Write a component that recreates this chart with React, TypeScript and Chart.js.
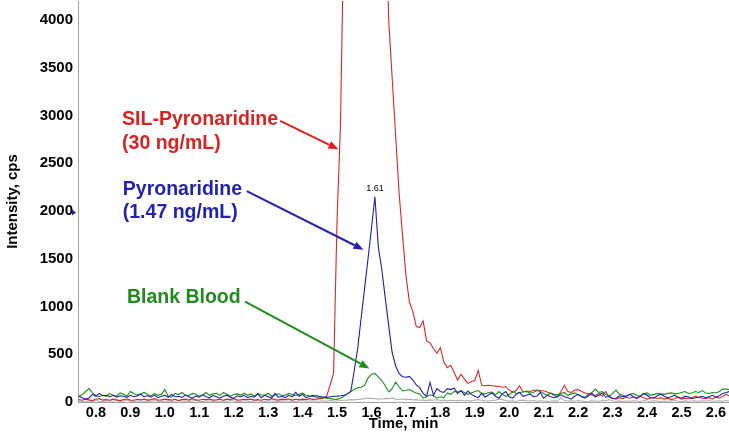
import { useEffect, useRef } from 'react';
import Chart from 'chart.js/auto';

// Retention time grid (min)
const times = [
  0.75, 0.76, 0.77, 0.78, 0.79, 0.80, 0.81, 0.82, 0.83, 0.84,
  0.85, 0.86, 0.87, 0.88, 0.89, 0.90, 0.91, 0.92, 0.93, 0.94,
  0.95, 0.96, 0.97, 0.98, 0.99, 1.00, 1.01, 1.02, 1.03, 1.04,
  1.05, 1.06, 1.07, 1.08, 1.09, 1.10, 1.11, 1.12, 1.13, 1.14,
  1.15, 1.16, 1.17, 1.18, 1.19, 1.20, 1.21, 1.22, 1.23, 1.24,
  1.25, 1.26, 1.27, 1.28, 1.29, 1.30, 1.31, 1.32, 1.33, 1.34,
  1.35, 1.36, 1.37, 1.38, 1.39, 1.40, 1.41, 1.42, 1.43, 1.44,
  1.45, 1.46, 1.47, 1.48, 1.49, 1.50, 1.51, 1.52, 1.53, 1.54,
  1.55, 1.56, 1.57, 1.58, 1.59, 1.60, 1.61, 1.62, 1.63, 1.64,
  1.65, 1.66, 1.67, 1.68, 1.69, 1.70, 1.71, 1.72, 1.73, 1.74,
  1.75, 1.76, 1.77, 1.78, 1.79, 1.80, 1.81, 1.82, 1.83, 1.84,
  1.85, 1.86, 1.87, 1.88, 1.89, 1.90, 1.91, 1.92, 1.93, 1.94,
  1.95, 1.96, 1.97, 1.98, 1.99, 2.00, 2.01, 2.02, 2.03, 2.04,
  2.05, 2.06, 2.07, 2.08, 2.09, 2.10, 2.11, 2.12, 2.13, 2.14,
  2.15, 2.16, 2.17, 2.18, 2.19, 2.20, 2.21, 2.22, 2.23, 2.24,
  2.25, 2.26, 2.27, 2.28, 2.29, 2.30, 2.31, 2.32, 2.33, 2.34,
  2.35, 2.36, 2.37, 2.38, 2.39, 2.40, 2.41, 2.42, 2.43, 2.44,
  2.45, 2.46, 2.47, 2.48, 2.49, 2.50, 2.51, 2.52, 2.53, 2.54,
  2.55, 2.56, 2.57, 2.58, 2.59, 2.60, 2.61, 2.62, 2.63, 2.64,
];

// Pyronaridine (1.47 ng/mL), cps
const pyronaridine = [
  60, 45, 30, 42, 80, 60, 90, 65, 70, 55,
  70, 50, 65, 60, 48, 70, 55, 62, 80, 55,
  65, 50, 72, 45, 60, 70, 50, 80, 55, 60,
  48, 72, 55, 40, 62, 50, 75, 55, 45, 68,
  55, 40, 60, 72, 50, 38, 65, 55, 70, 45,
  60, 50, 85, 45, 70, 55, 40, 90, 50, 60,
  45, 70, 55, 100, 60, 80, 45, 60, 70, 50,
  55, 52, 48, 55, 60, 62, 65, 70, 85, 110,
  330, 560, 880, 1190, 1500, 1820, 2150, 1620, 1390, 1090,
  800, 520, 380, 300, 265, 260, 268, 230, 180, 150,
  90, 60, 205, 70, 140, 110, 100, 140, 130, 145,
  90, 120, 70, 115, 80, 60, 45, 90, 50, 75,
  95, 60, 40, 85, 110, 55, 40, 80, 100, 60,
  70, 85, 55, 60, 100, 40, 70, 55, 45, 60,
  75, 55, 45, 30, 60, 80, 55, 40, 65, 90,
  55, 70, 95, 50, 60, 35, 40, 65, 55, 60,
  80, 55, 40, 60, 90, 70, 45, 40, 65, 80,
  60, 45, 55, 70, 50, 40, 60, 55, 35, 45,
  50, 60, 45, 55, 70, 50, 65, 90, 100, 110,
];

// SIL-Pyronaridine (30 ng/mL), cps (apex runs off scale)
const silPyronaridine = [
  25, 18, 30, 22, 15, 28, 35, 20, 25, 18,
  30, 22, 15, 25, 32, 20, 18, 28, 22, 30,
  20, 25, 35, 18, 22, 30, 25, 20, 28, 15,
  25, 30, 20, 35, 22, 18, 28, 25, 30, 20,
  22, 28, 18, 30, 25, 35, 20, 22, 28, 25,
  30, 20, 25, 18, 28, 22, 35, 25, 20, 30,
  25, 32, 20, 28, 22, 30, 25, 35, 28, 30,
  35, 40, 60, 180, 300, 1900, 2900, 5000, 8000, 12000,
  16000, 20000, 24000, 27000, 28500, 28000, 26000, 21000, 14000, 5500,
  4000, 3400, 2800, 2200, 1750, 1330, 1050, 950, 790, 780,
  850, 640, 620, 560, 510, 570, 420, 360, 385, 310,
  230, 290, 240, 195, 215, 225, 330, 175, 170, 175,
  170, 165, 165, 155, 160, 125, 100, 120, 170, 105,
  115, 110, 120, 125, 120, 118, 105, 90, 70, 50,
  110, 175, 110, 100, 125, 130, 110, 95, 85, 75,
  68, 90, 60, 110, 55, 40, 30, 45, 35, 50,
  40, 55, 35, 60, 45, 30, 40, 50, 35, 45,
  30, 40, 25, 35, 50, 30, 40, 35, 45, 60,
  50, 40, 35, 45, 30, 55, 40, 60, 80, 60,
];

// Blank Blood, cps
const blankBlood = [
  60, 75, 110, 140, 95, 68, 55, 70, 60, 88,
  70, 62, 95, 80, 60, 110, 90, 72, 85, 100,
  78, 64, 90, 70, 82, 130, 60, 52, 90, 78,
  100, 70, 68, 90, 82, 60, 74, 100, 70, 85,
  92, 70, 100, 82, 60, 78, 85, 72, 92, 70,
  84, 62, 88, 76, 70, 92, 60, 74, 86, 68,
  72, 90, 78, 66, 80, 92, 70, 62, 55, 70,
  55, 48, 40, 35, 30, 28, 40, 60, 85, 110,
  130, 150, 155, 175, 250, 290, 300, 260, 225, 170,
  105, 140, 210, 160, 115, 120, 130, 110, 95, 85,
  40, 55, 75, 65, 40, 55, 45, 95, 80, 110,
  105, 115, 100, 80, 95, 110, 120, 90, 85, 100,
  105, 75, 110, 80, 60, 75, 110, 90, 100, 105,
  110, 95, 100, 120, 110, 90, 70, 95, 80, 75,
  90, 100, 70, 85, 95, 75, 60, 50, 80, 100,
  135, 100, 110, 80, 60, 90, 125, 80, 70, 60,
  80, 90, 70, 60, 85, 95, 70, 80, 90, 85,
  80, 90, 95, 85, 90, 100, 110, 90, 95, 110,
  100, 120, 95, 90, 100, 95, 110, 135, 135, 130,
];

// Grey background trace, cps
const backgroundTrace = [
  10, 5, 8, 12, 6, 15, 8, 5, 10, 12,
  8, 15, 6, 10, 20, 8, 5, 12, 10, 6,
  12, 8, 15, 5, 10, 8, 12, 6, 10, 15,
  8, 12, 5, 10, 15, 8, 6, 12, 10, 5,
  10, 6, 12, 8, 15, 10, 5, 8, 12, 10,
  6, 10, 15, 8, 5, 12, 10, 8, 6, 12,
  10, 8, 12, 6, 10, 15, 8, 10, 12, 8,
  10, 12, 8, 15, 12, 10, 15, 18, 20, 25,
  22, 28, 30, 35, 40, 38, 35, 30, 32, 38,
  35, 40, 30, 28, 32, 25, 30, 22, 25, 18,
  20, 15, 22, 18, 25, 15, 20, 12, 18, 15,
  12, 18, 10, 15, 12, 20, 25, 18, 12, 10,
  15, 20, 30, 25, 15, 10, 12, 8, 15, 20,
  12, 10, 15, 8, 12, 10, 5, 10, 12, 8,
  45, 15, 10, 12, 8, 15, 10, 5, 8, 12,
  10, 8, 15, 12, 25, 10, 8, 12, 5, 10,
  8, 12, 10, 6, 15, 10, 8, 12, 10, 5,
  10, 8, 12, 15, 10, 6, 12, 8, 10, 12,
  8, 12, 10, 15, 8, 10, 12, 8, 15, 10,
];

const xTicks = [0.8, 0.9, 1.0, 1.1, 1.2, 1.3, 1.4, 1.5, 1.6, 1.7, 1.8, 1.9, 2.0, 2.1, 2.2, 2.3, 2.4, 2.5, 2.6];
const yTicks = [0, 500, 1000, 1500, 2000, 2500, 3000, 3500, 4000];

// Annotation labels (data coordinates: time, intensity of the left/middle of text)
const labelTexts = ['SIL-Pyronaridine', '(30 ng/mL)', 'Pyronaridine', '(1.47 ng/mL)', 'Blank Blood'];
const labelTimes = [0.876, 0.876, 0.878, 0.878, 0.89];
const labelIntensities = [2953, 2711, 2226, 1981, 1089];
const labelColors = ['#d62424', '#d62424', '#2424a8', '#2424a8', '#218a21'];

// Arrows: start (time, intensity) -> tip (time, intensity)
const arrowStartTimes = [1.335, 1.238, 1.233];
const arrowStartIntensities = [2945, 2208, 1051];
const arrowEndTimes = [1.504, 1.577, 1.594];
const arrowEndIntensities = [2647, 1595, 352];
const arrowColors = ['#d62424', '#2424a8', '#218a21'];

// Peak apex label
const apexTime = 1.61;
const apexIntensity = 2150;
const apexLabel = '1.61';
const markerIntensity = 1985;

const FONT = '"Liberation Sans", Arial, Helvetica, sans-serif';

const annotationPlugin = {
  id: 'chromAnnotations',
  afterDatasetsDraw(chart: any) {
    const { ctx, scales } = chart;
    const xs = scales.x;
    const ys = scales.y;
    ctx.save();
    // arrows
    for (let i = 0; i < arrowStartTimes.length; i++) {
      const x1 = xs.getPixelForValue(arrowStartTimes[i]);
      const y1 = ys.getPixelForValue(arrowStartIntensities[i]);
      const x2 = xs.getPixelForValue(arrowEndTimes[i]);
      const y2 = ys.getPixelForValue(arrowEndIntensities[i]);
      const ang = Math.atan2(y2 - y1, x2 - x1);
      const headLen = 10;
      const headW = 4;
      const bx = x2 - headLen * Math.cos(ang);
      const by = y2 - headLen * Math.sin(ang);
      ctx.strokeStyle = arrowColors[i];
      ctx.fillStyle = arrowColors[i];
      ctx.lineWidth = 2;
      ctx.beginPath();
      ctx.moveTo(x1, y1);
      ctx.lineTo(bx, by);
      ctx.stroke();
      ctx.beginPath();
      ctx.moveTo(x2, y2);
      ctx.lineTo(bx + headW * Math.sin(ang), by - headW * Math.cos(ang));
      ctx.lineTo(bx - headW * Math.sin(ang), by + headW * Math.cos(ang));
      ctx.closePath();
      ctx.fill();
    }
    // labels
    ctx.font = `bold 19.5px ${FONT}`;
    ctx.textAlign = 'left';
    ctx.textBaseline = 'middle';
    for (let i = 0; i < labelTexts.length; i++) {
      ctx.fillStyle = labelColors[i];
      ctx.fillText(labelTexts[i], xs.getPixelForValue(labelTimes[i]), ys.getPixelForValue(labelIntensities[i]));
    }
    // apex label
    ctx.font = `9px ${FONT}`;
    ctx.fillStyle = '#000';
    ctx.textAlign = 'center';
    ctx.textBaseline = 'bottom';
    ctx.fillText(apexLabel, xs.getPixelForValue(apexTime), ys.getPixelForValue(apexIntensity) - 4);
    // small peak marker on the y axis
    const my = ys.getPixelForValue(markerIntensity);
    const mx = chart.chartArea.left - 2;
    ctx.fillStyle = '#2424a8';
    ctx.beginPath();
    ctx.moveTo(mx, my);
    ctx.lineTo(mx - 4, my - 3);
    ctx.lineTo(mx - 4, my + 3);
    ctx.closePath();
    ctx.fill();
    ctx.restore();
  },
};

function toPoints(values: number[]) {
  return times.map((t, i) => ({ x: t, y: values[i] }));
}

export default function App() {
  const canvasRef = useRef<HTMLCanvasElement | null>(null);

  useEffect(() => {
    const canvas = canvasRef.current;
    if (!canvas) return;
    const lineDs = (label: string, values: number[], color: string) => ({
      label,
      data: toPoints(values),
      borderColor: color,
      backgroundColor: color,
      borderWidth: 1.1,
      pointRadius: 0,
      tension: 0,
      fill: false,
    });
    const chart = new Chart(canvas, {
      type: 'line',
      data: {
        datasets: [
          lineDs('Pyronaridine', pyronaridine, '#2020a8'),
          lineDs('Blank Blood', blankBlood, '#1f8a1f'),
          lineDs('SIL-Pyronaridine', silPyronaridine, '#d42a2a'),
          lineDs('Background', backgroundTrace, '#b0b0b0'),
        ],
      },
      options: {
        animation: false,
        responsive: false,
        maintainAspectRatio: false,
        layout: { padding: { top: 1, left: 0, right: 0, bottom: 0 } },
        plugins: {
          legend: { display: false },
          tooltip: { enabled: false },
        },
        scales: {
          x: {
            type: 'linear',
            min: 0.748,
            max: 2.638,
            afterBuildTicks: (s: any) => {
              s.ticks = xTicks.map((v) => ({ value: v }));
            },
            afterFit: (s: any) => {
              s.height = 34;
              s.paddingLeft = 0;
              s.paddingRight = 0;
            },
            grid: { display: true, drawOnChartArea: false, drawTicks: false },
            border: { color: '#a0a0a0', width: 1 },
            ticks: {
              font: { family: FONT, size: 14.5, weight: 'bold' },
              color: '#000',
              padding: 2,
              maxRotation: 0,
              autoSkip: false,
              callback: (v: any) => Number(v).toFixed(1),
            },
            title: {
              display: true,
              text: 'Time, min',
              color: '#000',
              font: { family: FONT, size: 15, weight: 'bold' },
              padding: { top: 0, bottom: 3 },
            },
          },
          y: {
            type: 'linear',
            min: 0,
            max: 4200,
            afterBuildTicks: (s: any) => {
              s.ticks = yTicks.map((v) => ({ value: v }));
            },
            afterFit: (s: any) => {
              s.width = 78;
              s.paddingTop = 0;
              s.paddingBottom = 0;
            },
            grid: { display: true, drawOnChartArea: false, drawTicks: false },
            border: { color: '#a0a0a0', width: 1 },
            ticks: {
              font: { family: FONT, size: 15, weight: 'bold' },
              color: '#000',
              padding: 5,
              callback: (v: any) => String(v),
            },
            title: {
              display: true,
              text: 'Intensity, cps',
              color: '#000',
              font: { family: FONT, size: 15, weight: 'bold' },
              padding: { top: 4, bottom: 0 },
            },
          },
        },
      },
      plugins: [annotationPlugin],
    } as any);
    return () => chart.destroy();
  }, []);

  return (
    <div style={{ position: 'absolute', left: 0, top: 0, width: 729, height: 436, background: '#fff' }}>
      <canvas ref={canvasRef} width={729} height={436} />
    </div>
  );
}
